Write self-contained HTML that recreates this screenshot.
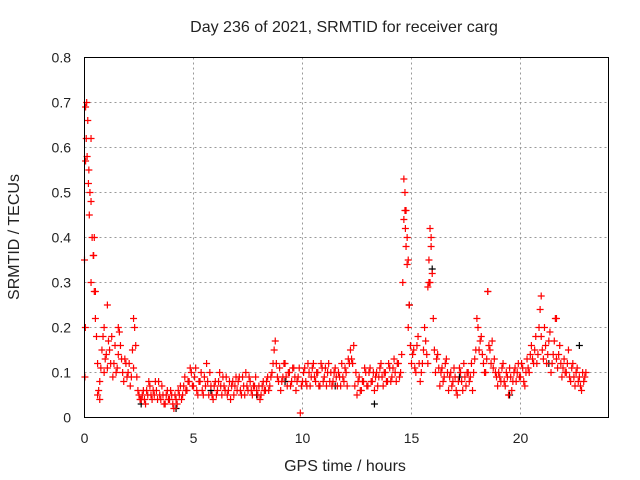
<!DOCTYPE html>
<html><head><meta charset="utf-8"><style>
body{margin:0;background:#fff;}
svg{display:block;font-family:"Liberation Sans",sans-serif;}
</style></head><body>
<svg id="chart" width="640" height="480" viewBox="0 0 640 480">
<text x="344" y="32" font-size="16" text-anchor="middle" fill="#222">Day 236 of 2021, SRMTID for receiver carg</text>
<g id="grid"></g>
<g id="ticks"></g>
<g id="marks"></g>
<rect x="84.5" y="57.5" width="524" height="360" fill="none" stroke="#000" stroke-width="1"/>
<text transform="translate(19,237) rotate(-90)" font-size="16" text-anchor="middle" fill="#222">SRMTID / TECUs</text>
<text x="345" y="471" font-size="16" text-anchor="middle" fill="#222">GPS time / hours</text>
</svg>
<script>
const xTicks=[0,5,10,15,20];
const yTicks=[0,0.1,0.2,0.3,0.4,0.5,0.6,0.7,0.8];
const yTickLabels=["0","0.1","0.2","0.3","0.4","0.5","0.6","0.7","0.8"];
const sampleValues=[
0.35,0.70,0.55,0.48,0.36,0.22,0.12,0.08,0.15,0.10,
0.14,0.17,0.12,0.09,0.16,0.11,0.19,0.13,0.08,0.12,
0.10,0.07,0.15,0.20,0.09,0.05,0.04,0.06,0.03,0.05,
0.07,0.04,0.05,0.06,0.08,0.04,0.05,0.03,0.06,0.04,
0.05,0.02,0.04,0.06,0.07,0.05,0.09,0.06,0.08,0.10,
0.07,0.11,0.05,0.08,0.06,0.09,0.12,0.05,0.07,0.04,
0.08,0.06,0.10,0.05,0.07,0.09,0.06,0.04,0.08,0.07,
0.06,0.09,0.05,0.07,0.10,0.06,0.08,0.05,0.07,0.06,
0.07,0.05,0.08,0.06,0.09,0.07,0.10,0.15,0.12,0.08,
0.06,0.09,0.12,0.07,0.10,0.08,0.11,0.06,0.09,0.01,
0.08,0.11,0.07,0.10,0.09,0.12,0.08,0.10,0.07,0.11,
0.09,0.07,0.12,0.10,0.08,0.11,0.07,0.09,0.12,0.08,
0.10,0.13,0.15,0.12,0.07,0.05,0.09,0.06,0.08,0.10,
0.07,0.11,0.08,0.06,0.10,0.09,0.12,0.07,0.10,0.08,
0.11,0.09,0.13,0.08,0.12,0.10,0.30,0.50,0.40,0.25,
0.12,0.15,0.10,0.18,0.08,0.12,0.20,0.14,0.35,0.40,
0.22,0.10,0.14,0.07,0.11,0.09,0.13,0.06,0.10,0.08,
0.09,0.05,0.11,0.08,0.12,0.07,0.10,0.09,0.06,0.13,
0.22,0.15,0.18,0.12,0.10,0.28,0.15,0.17,0.13,0.09,
0.10,0.08,0.12,0.07,0.09,0.11,0.06,0.10,0.08,0.12,
0.09,0.11,0.07,0.13,0.10,0.16,0.12,0.18,0.14,0.24,
0.15,0.20,0.12,0.17,0.10,0.14,0.22,0.11,0.16,0.09,
0.13,0.10,0.15,0.08,0.12,0.07,0.11,0.09,0.06,0.08];
const offsetValues=[
0.57,0.66,0.50,0.40,0.28,0.18,0.06,0.11,0.18,0.13,
0.11,0.15,0.18,0.12,0.10,0.14,0.16,0.10,0.13,0.09,
0.12,0.09,0.11,0.16,0.06,0.04,0.05,0.04,0.06,0.08,
0.05,0.06,0.08,0.04,0.05,0.07,0.03,0.05,0.04,0.06,
0.03,0.05,0.03,0.05,0.04,0.07,0.06,0.08,0.11,0.07,
0.09,0.06,0.08,0.10,0.05,0.07,0.08,0.10,0.05,0.07,
0.05,0.08,0.07,0.09,0.06,0.05,0.08,0.07,0.05,0.09,
0.08,0.06,0.09,0.05,0.07,0.09,0.06,0.07,0.09,0.05,
0.04,0.07,0.06,0.08,0.06,0.09,0.12,0.17,0.09,0.11,
0.08,0.12,0.09,0.10,0.07,0.11,0.09,0.08,0.11,0.07,
0.10,0.08,0.12,0.07,0.11,0.09,0.10,0.07,0.12,0.08,
0.11,0.10,0.08,0.07,0.10,0.09,0.10,0.07,0.09,0.11,
0.07,0.12,0.13,0.16,0.10,0.08,0.06,0.08,0.11,0.07,
0.10,0.08,0.10,0.09,0.07,0.11,0.09,0.10,0.08,0.12,
0.08,0.11,0.10,0.12,0.09,0.14,0.44,0.46,0.35,0.16,
0.14,0.11,0.16,0.12,0.10,0.15,0.17,0.12,0.30,0.32,
0.15,0.13,0.11,0.10,0.08,0.12,0.10,0.09,0.07,0.11,
0.06,0.08,0.10,0.06,0.09,0.10,0.08,0.12,0.10,0.15,
0.20,0.17,0.14,0.10,0.13,0.16,0.12,0.11,0.10,0.07,
0.09,0.11,0.08,0.10,0.05,0.09,0.08,0.11,0.10,0.09,
0.12,0.08,0.10,0.11,0.14,0.13,0.15,0.12,0.20,0.18,
0.13,0.16,0.14,0.19,0.12,0.17,0.13,0.14,0.12,0.11,
0.10,0.12,0.09,0.11,0.09,0.10,0.08,0.07,0.10,0.09];
const sampleStep=0.1;
const extraTimes=[0.02,0.04,0.05,0.08,0.12,0.18,0.22,0.3,0.3,0.42,0.45,0.5,0.6,0.7,0.9,1.05,1.55,2.25,14.65,14.7,14.72,14.75,14.8,14.85,14.9,15.75,15.8,15.85,15.9,18.5,20.95,21.65,23.0];
const extraValues=[0.09,0.20,0.69,0.62,0.58,0.52,0.45,0.62,0.30,0.36,0.40,0.28,0.05,0.04,0.20,0.25,0.20,0.22,0.53,0.46,0.42,0.38,0.34,0.20,0.25,0.29,0.30,0.42,0.38,0.28,0.27,0.22,0.10];
const blackTimes=[2.6,4.2,5.8,7.9,9.2,11.5,13.3,14.9,15.95,17.2,19.5,21.3,22.7];
const blackValues=[0.03,0.02,0.06,0.05,0.08,0.07,0.03,0.25,0.33,0.09,0.05,0.12,0.16];
const X=t=>84.5+t*21.8, Y=v=>417.5-v*450;
const ns="http://www.w3.org/2000/svg";
const grid=document.getElementById('grid'),ticks=document.getElementById('ticks'),marks=document.getElementById('marks');
function mk(tag,attrs,parent){const e=document.createElementNS(ns,tag);for(const k in attrs)e.setAttribute(k,attrs[k]);parent.appendChild(e);return e;}
xTicks.forEach(t=>{
 if(t>0){const l=mk('line',{x1:X(t),x2:X(t),y1:57.5,y2:417.5,stroke:'#999','stroke-dasharray':'2,3'},grid);
 
 }
 const tx=mk('text',{x:X(t),y:443,'font-size':14,'text-anchor':'middle',fill:'#222'},ticks);tx.textContent=t;
 
 
});
yTicks.forEach((v,i)=>{
 if(v>0&&v<0.8){const l=mk('line',{x1:84.5,x2:608.5,y1:Y(v),y2:Y(v),stroke:'#999','stroke-dasharray':'2,3'},grid);
 
 }
 const tx=mk('text',{x:71,y:Y(v)+5,'font-size':14,'text-anchor':'end',fill:'#222'},ticks);tx.textContent=yTickLabels[i];
 
 
});
function plus(t,v,c){const x=X(t),y=Y(v);
 const p=mk('path',{d:`M${x-3.5} ${y}H${x+3.5}M${x} ${y-3.5}V${y+3.5}`,stroke:c,'stroke-width':1.2,fill:'none'},marks);
 
 }
blackTimes.forEach((t,i)=>plus(t,blackValues[i],'#000'));
sampleValues.forEach((v,i)=>{plus(i*sampleStep,v,'#f00');});
offsetValues.forEach((v,i)=>{plus(i*sampleStep+0.05,v,'#f00');});
extraTimes.forEach((t,i)=>plus(t,extraValues[i],'#f00'));
</script>
</body></html>
